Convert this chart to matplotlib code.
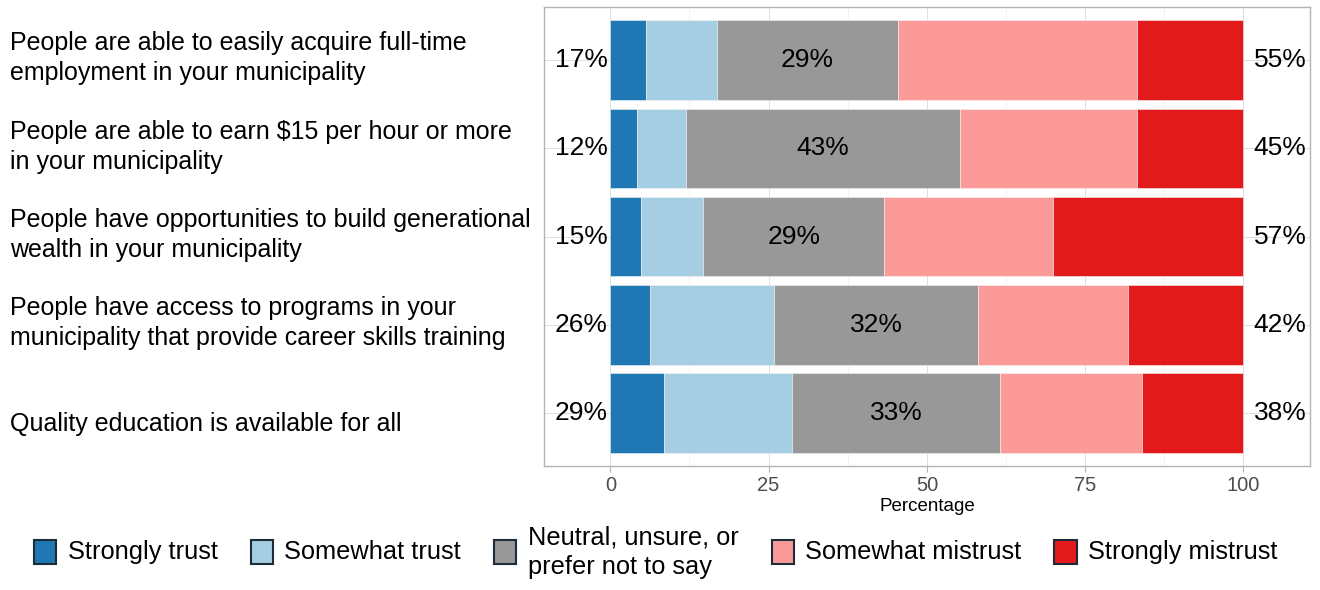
import matplotlib
matplotlib.use("Agg")
import matplotlib.pyplot as plt
import matplotlib.transforms as mtransforms
from matplotlib.patches import Patch
import numpy as np

plt.rcParams['font.family'] = ['Liberation Sans', 'DejaVu Sans']

# statements, top to bottom
statements = [
    "People are able to easily acquire full-time\nemployment in your municipality",
    "People are able to earn $15 per hour or more\nin your municipality",
    "People have opportunities to build generational\nwealth in your municipality",
    "People have access to programs in your\nmunicipality that provide career skills training",
    "Quality education is available for all",
]

responses = ["Strongly trust", "Somewhat trust", "Neutral, unsure, or\nprefer not to say",
             "Somewhat mistrust", "Strongly mistrust"]
colors = ['#1F78B4', '#A6CEE3', '#989898', '#FB9A99', '#E31A1C']

# segment shares (percent), one list per response
strongly_trust = [5.6, 4.2, 4.9, 6.3, 8.4]
somewhat_trust = [11.2, 7.7, 9.8, 19.6, 20.3]
neutral = [28.7, 43.4, 28.6, 32.2, 32.9]
somewhat_mistrust = [37.7, 27.9, 26.6, 23.7, 22.4]
strongly_mistrust = [16.8, 16.8, 30.1, 18.2, 16.0]

# printed labels
trust_labels = ["17%", "12%", "15%", "26%", "29%"]
neutral_labels = ["29%", "43%", "29%", "32%", "33%"]
mistrust_labels = ["55%", "45%", "57%", "42%", "38%"]

series = [strongly_trust, somewhat_trust, neutral, somewhat_mistrust, strongly_mistrust]

fig = plt.figure(figsize=(13.2, 5.9), dpi=100)
ax = fig.add_axes([0.412, 0.210, 0.5804, 0.778])

y = np.arange(1, len(statements) + 1)

# grid behind the bars
for gx in [0, 25, 50, 75, 100]:
    ax.axvline(gx, color='#DEDEDE', lw=0.7, zorder=0)
for gx in [12.5, 37.5, 62.5, 87.5]:
    ax.axvline(gx, color='#EBEBEB', lw=0.4, zorder=0)
for gy in y:
    ax.axhline(gy, color='#DEDEDE', lw=0.7, zorder=0)

left = np.zeros(len(statements))
for vals, col, name in zip(series, colors, responses):
    vals = np.array(vals)
    ax.barh(y, vals, left=left, height=0.9, color=col, edgecolor='#F2F2F2',
            linewidth=0.4, zorder=2, label=name)
    left = left + vals

trust_tot = np.array(strongly_trust) + np.array(somewhat_trust)
neutral_mid = trust_tot + np.array(neutral) / 2

for i in range(len(statements)):
    ax.text(-0.4, y[i], trust_labels[i], ha='right', va='center', fontsize=19, zorder=3)
    ax.text(neutral_mid[i], y[i], neutral_labels[i], ha='center', va='center', fontsize=19, zorder=3)
    ax.text(101.6, y[i], mistrust_labels[i], ha='left', va='center', fontsize=19, zorder=3)

ax.set_xlim(-10.5, 110.5)
ax.set_ylim(5.6, 0.4)
ax.set_xticks([0, 25, 50, 75, 100])
ax.set_yticks([])
ax.tick_params(axis='x', colors='#B3B3B3', labelcolor='#4D4D4D', labelsize=14.5,
               length=4, width=0.8, pad=3)
ax.set_xlabel("Percentage", fontsize=13.5, labelpad=2)
for s in ax.spines.values():
    s.set_color('#B3B3B3')
    s.set_linewidth(1.0)

# statement labels, left aligned at the figure edge
trans = mtransforms.blended_transform_factory(fig.transFigure, ax.transData)
for i, s in enumerate(statements):
    nlines = s.count("\n") + 1
    fig.text(0.0076, y[i] + 0.12 - 0.14 * (nlines - 1), s, transform=trans,
             ha='left', va='center', fontsize=18, linespacing=1.32)

handles = [Patch(facecolor=c, edgecolor='#1E2B38', linewidth=1.5) for c in colors]
leg = fig.legend(handles, responses, loc='center left', bbox_to_anchor=(0.026, 0.064),
                 ncol=5, frameon=False, fontsize=18.3, borderpad=0, borderaxespad=0,
                 handlelength=0.87, handleheight=1.08, handletextpad=0.45,
                 columnspacing=1.3)
for t in leg.get_texts():
    t.set_linespacing(1.32)
# centre each key against its (possibly two-line) label
for col in leg._legend_handle_box.get_children():
    col.align = 'center'
    for item in col.get_children():
        item.align = 'center'
leg._legend_handle_box.align = 'center'

fig.savefig("out.png", dpi=100)
